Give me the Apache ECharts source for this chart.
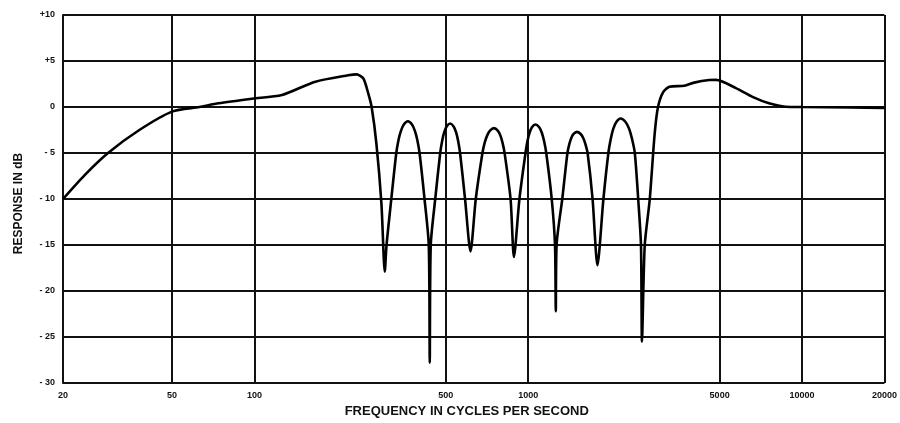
<!DOCTYPE html>
<html>
<head>
<meta charset="utf-8">
<script src="https://cdn.jsdelivr.net/npm/echarts@6/dist/echarts.min.js"></script>
<style>
html,body{margin:0;padding:0;background:#fff;}
#chart{width:900px;height:423px;}
</style>
</head>
<body>
<div id="chart"></div>
<script>
// Frequencies (Hz) and response (dB)
const freqs = [20, 24, 29.2, 38, 50, 63, 74, 98, 126, 167, 220, 236, 250, 260.3, 268, 279, 291, 299.3,
  303.8, 316.2, 329.7, 336.1, 342.9, 351.3, 363.6, 376.3, 385.5, 393.3, 401.0, 418.1, 433.3, 436.9,
  440.6, 457.5, 477.0, 485.1, 493.2, 503.6, 518.6, 534.0, 545.3, 554.5, 563.8, 587.9, 615.5,
  643.3, 680.4, 693.6, 707.7, 725.0, 750.3, 773.9, 791.5, 805.5, 819.8, 862.0, 886.8,
  928.6, 977.2, 993.7, 1010.4, 1031.8, 1062.4, 1096.7, 1121.7, 1142.5, 1163.7, 1218.5, 1252.5, 1260.9,
  1269.3, 1331.3, 1390.4, 1412.7, 1435.3, 1464.4, 1505.3, 1553.9, 1589.3, 1617.5, 1647.5, 1717.8, 1789.6,
  1881.7, 1962.0, 2003.4, 2044.0, 2097.6, 2174.4, 2267.2, 2336.5, 2391.8, 2450.5, 2521.1, 2580.8, 2602.5,
  2664, 2777, 2896, 2978, 3107, 3282, 3712, 4036, 4586, 4850, 5734, 6592, 7574, 8710, 10000, 15000, 20000];
const response = [-10, -7.4, -5, -2.5, -0.5, 0, 0.4, 0.9, 1.3, 2.75, 3.45, 3.55, 3.1, 1.5, 0, -4, -10.5, -17.9,
  -15, -10, -5, -3.55, -2.59, -1.9, -1.55, -1.9, -2.59, -3.55, -5, -10, -15, -27.8,
  -15, -10, -5, -3.66, -2.76, -2.12, -1.8, -2.12, -2.76, -3.66, -5, -10, -15.7,
  -10, -5, -3.87, -3.11, -2.57, -2.3, -2.57, -3.11, -3.87, -5, -10, -16.3,
  -10, -5, -3.7, -2.83, -2.21, -1.9, -2.21, -2.83, -3.7, -5, -10, -15, -22.2,
  -15, -10, -5, -4.03, -3.39, -2.93, -2.7, -2.93, -3.39, -4.03, -5, -10, -17.2,
  -10, -5, -3.43, -2.38, -1.63, -1.25, -1.63, -2.38, -3.43, -5, -10, -15, -25.5,
  -15, -10.1, -2.9, 0, 1.6, 2.2, 2.3, 2.65, 2.93, 2.95, 2.05, 1.1, 0.4, 0.03, 0, -0.05, -0.1];
const xTicks = [20, 50, 100, 500, 1000, 5000, 10000, 20000];
const yTicks = [-30, -25, -20, -15, -10, -5, 0, 5, 10];

const chart = echarts.init(document.getElementById('chart'));
const FONT = 'Liberation Sans, Arial, sans-serif';
const labelFont = {fontFamily: FONT, fontWeight: 'bold', fontSize: 9, color: '#111'};
const gridLine = {show: true, lineStyle: {color: '#111', width: 2}};

chart.setOption({
  animation: false,
  backgroundColor: '#fff',
  grid: {left: 63, right: 11, top: 15, bottom: 40, containLabel: false},
  xAxis: {
    type: 'log', logBase: 10, min: 20, max: 20000,
    name: 'FREQUENCY IN CYCLES PER SECOND', nameLocation: 'middle', nameGap: 22,
    nameTextStyle: {fontFamily: FONT, fontWeight: 'bold', fontSize: 13, color: '#111', padding: [0, 14, 0, 0]},
    axisLine: {show: true, lineStyle: {color: '#111', width: 2}},
    axisTick: {show: false, customValues: xTicks},
    axisLabel: Object.assign({customValues: xTicks, margin: 8, formatter: v => String(v)}, labelFont),
    splitLine: gridLine,
    minorSplitLine: {show: false}
  },
  yAxis: {
    type: 'value', min: -30, max: 10, interval: 5,
    name: 'RESPONSE IN dB', nameLocation: 'middle', nameGap: 38, nameRotate: 90,
    nameTextStyle: {fontFamily: FONT, fontWeight: 'bold', fontSize: 12, color: '#111', padding: [0, 9, 0, 0]},
    axisLine: {show: true, lineStyle: {color: '#111', width: 2}},
    axisTick: {show: false},
    axisLabel: Object.assign({margin: 8, customValues: yTicks, formatter: v => v > 0 ? '+' + v : (v < 0 ? '- ' + Math.abs(v) : '0')}, labelFont),
    splitLine: gridLine
  },
  series: [{
    type: 'line',
    data: freqs.map((f, i) => [f, response[i]]),
    showSymbol: false,
    smooth: 0.25,
    lineStyle: {color: '#000', width: 2.6},
    z: 5
  }]
});
</script>
</body>
</html>
